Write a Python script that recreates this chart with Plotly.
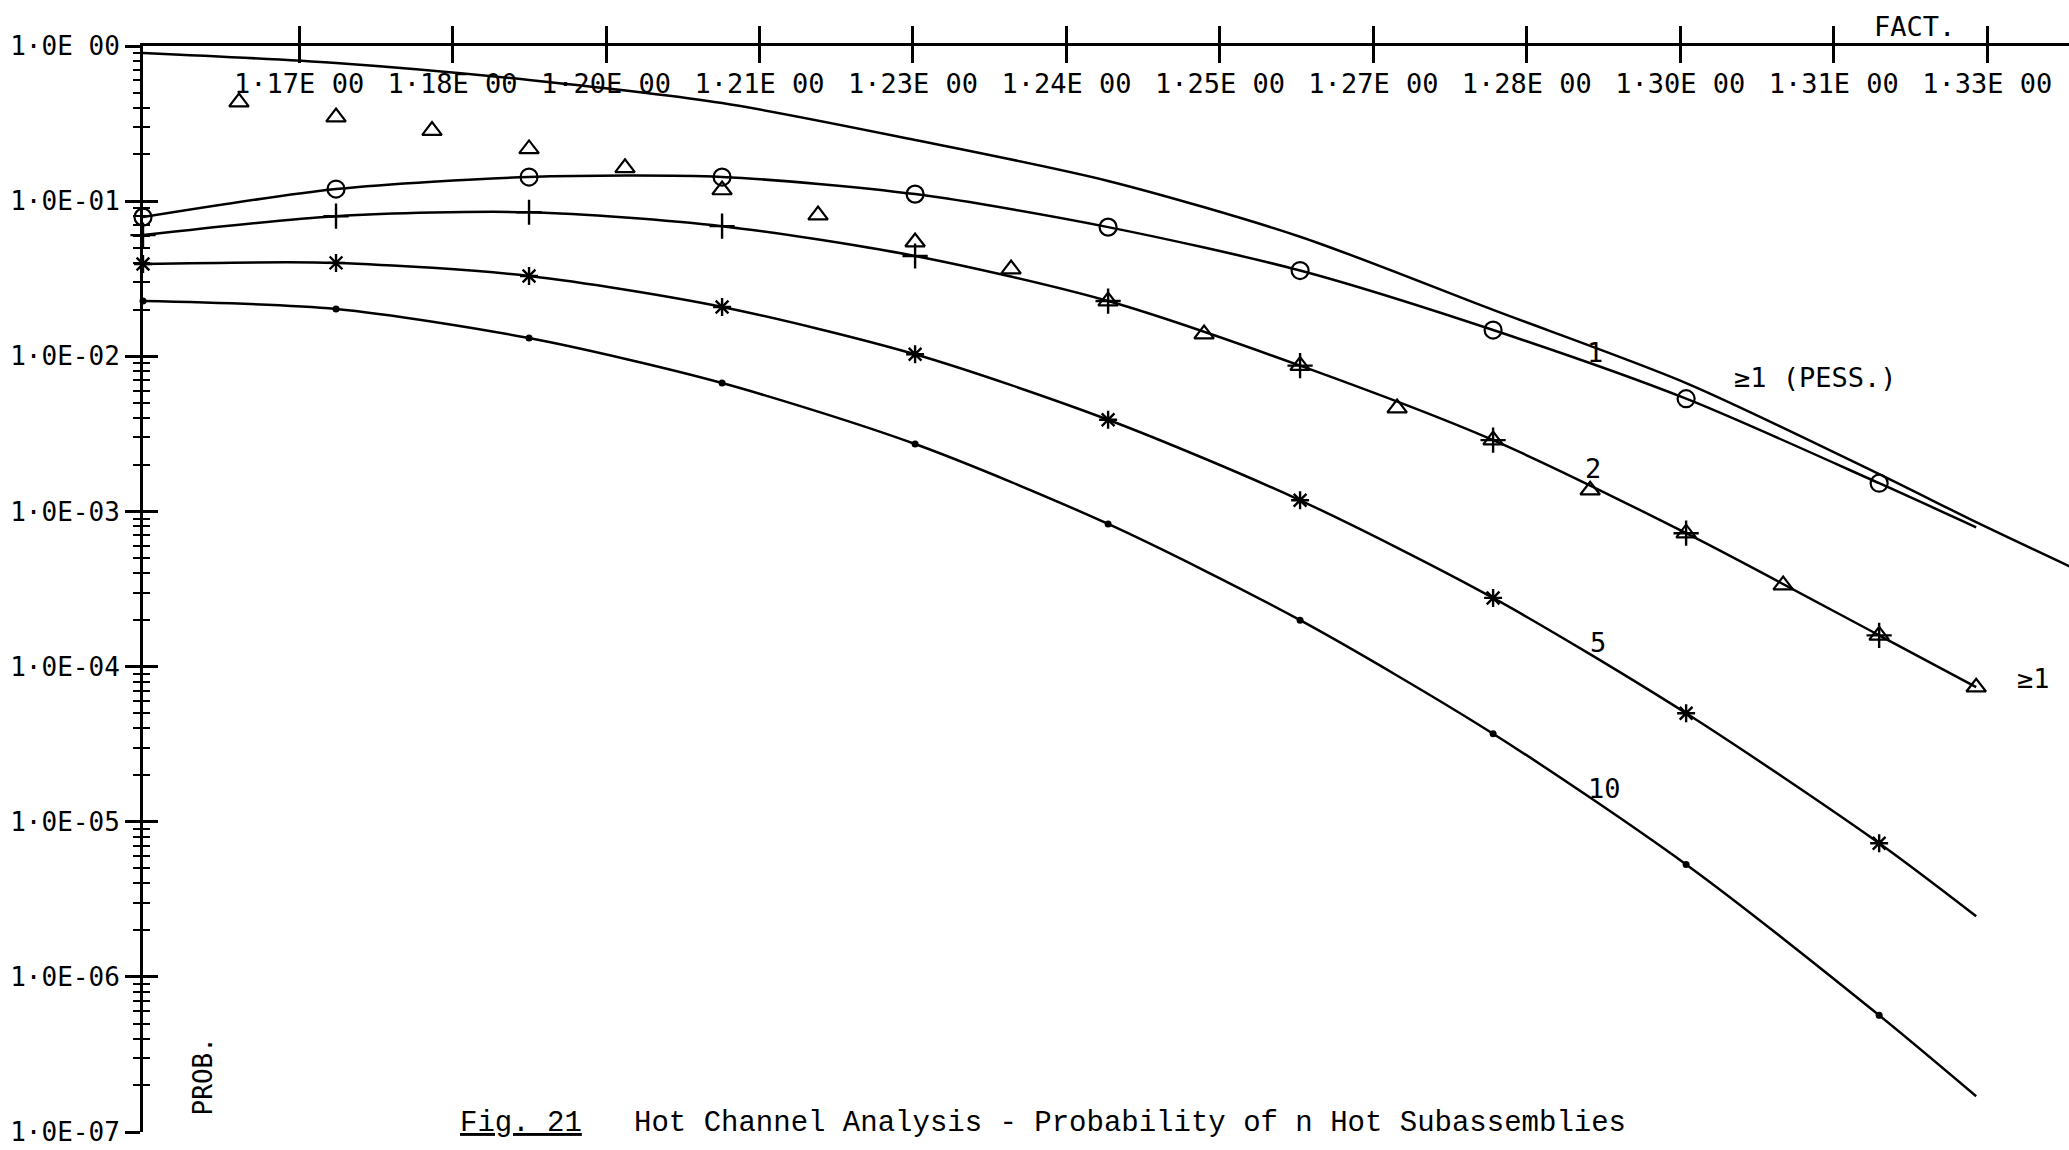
import math
import plotly.graph_objects as go

# ---------------- data ----------------
# hot-channel factor grid used by the computed curves (last point = curve end)
x_grid = [1.1572, 1.1755, 1.1938, 1.2121, 1.2304, 1.2487, 1.2669, 1.2852, 1.3035, 1.3218, 1.3310]
x_marked = x_grid[:10]

# >=1 (pessimistic) curve, runs off the right edge
pess_x = [1.1572, 1.1755, 1.1938, 1.2121, 1.2304, 1.2487, 1.2669, 1.2852, 1.3035, 1.3218, 1.3310, 1.3400]
pess_y = [0.902, 0.777, 0.604, 0.429, 0.248, 0.135, 0.059, 0.0199, 0.00672, 0.00174, 0.000853, 0.000438]

# n = 1 (circles)
n1_y = [0.0789, 0.1197, 0.143, 0.143, 0.111, 0.068, 0.0357, 0.01476, 0.00533, 0.00152, 0.00079]
# n = 2 (plus)
n2_y = [0.0604, 0.080, 0.0848, 0.069, 0.0443, 0.0227, 0.0087, 0.00288, 0.000724, 0.000159, 0.0000736]
# n = 5 (asterisk)
n5_y = [0.0393, 0.040, 0.0329, 0.0208, 0.0103, 0.0039, 0.00118, 0.000277, 0.0000500, 0.00000727, 0.00000246]
# n = 10 (dots)
n10_y = [0.0227, 0.0202, 0.0131, 0.00672, 0.00272, 0.00083, 0.000199, 0.0000369, 0.0000053, 0.000000565, 0.00000017]

# >=1 (triangles)
tri_x = [1.1663, 1.1755, 1.1846, 1.1938, 1.2029, 1.2121, 1.2212, 1.2304, 1.2395, 1.2487,
         1.2578, 1.2669, 1.2761, 1.2852, 1.2944, 1.3035, 1.3127, 1.3218, 1.3310]
tri_y = [0.435, 0.348, 0.285, 0.217, 0.164, 0.118, 0.0813, 0.0545, 0.0365, 0.0227,
         0.0139, 0.0087, 0.00463, 0.00288, 0.00137, 0.000724, 0.000335, 0.000159, 0.0000736]

# axis ticks
xtick_start = 1.172
xtick_step = 0.01455
xtick_text = ["1·17E 00", "1·18E 00", "1·20E 00", "1·21E 00", "1·23E 00", "1·24E 00",
              "1·25E 00", "1·27E 00", "1·28E 00", "1·30E 00", "1·31E 00", "1·33E 00"]
xtick_vals = [round(xtick_start + i * xtick_step, 5) for i in range(len(xtick_text))]

ytick_vals = [1, 1e-1, 1e-2, 1e-3, 1e-4, 1e-5, 1e-6, 1e-7]
ytick_text = ["1·0E 00", "1·0E-01", "1·0E-02", "1·0E-03", "1·0E-04", "1·0E-05", "1·0E-06", "1·0E-07"]
yminor_vals = [d * 10.0 ** e for e in range(-7, 0) for d in range(2, 10)]

# curve labels
label_text = ["1", "≥1 (PESS.)", "2", "5", "10", "≥1"]
label_x = [1.2949, 1.3158, 1.2947, 1.2951, 1.2958, 1.3364]
label_y = [0.01064, 0.00734, 0.0019, 1.42e-4, 1.64e-5, 8.4e-5]

caption = "<u>Fig. 21</u>\u00a0\u00a0\u00a0Hot Channel Analysis - Probability of n Hot Subassemblies"

X_RANGE = [1.1572, 1.3398]
Y_RANGE = [-7, 0]
PLOT_FONT = "DejaVu Sans Mono"

# ---------------- figure ----------------
fig = go.Figure()

LW = 2.5
for ys, xs in [(pess_y, pess_x), (n1_y, x_grid), (n2_y, x_grid), (n5_y, x_grid), (n10_y, x_grid)]:
    fig.add_trace(go.Scatter(x=xs, y=ys, mode="lines",
                             line=dict(color="black", width=LW, shape="spline", smoothing=0.8),
                             hoverinfo="skip"))

marker_specs = [
    (n1_y, dict(symbol="circle-open", size=17, color="black", line=dict(width=2.2, color="black"))),
    (n2_y, dict(symbol="cross-thin-open", size=18, color="black", line=dict(width=2.4, color="black"))),
    (n5_y, dict(symbol="asterisk-open", size=15, color="black", line=dict(width=2.4, color="black"))),
    (n10_y, dict(symbol="circle", size=7, color="black")),
]
for ys, mk in marker_specs:
    fig.add_trace(go.Scatter(x=x_marked, y=ys[:10], mode="markers", marker=mk,
                             cliponaxis=False, hoverinfo="skip"))

# triangles on the overlay axes (gives the second set of crossing ticks)
fig.add_trace(go.Scatter(x=tri_x, y=tri_y, mode="markers", xaxis="x2", yaxis="y2",
                         marker=dict(symbol="triangle-up-open", size=17, color="black",
                                     line=dict(width=2.2, color="black")),
                         cliponaxis=False, hoverinfo="skip"))

annotations = []
for t, lx, ly in zip(label_text, label_x, label_y):
    annotations.append(dict(x=lx, y=math.log10(ly), xref="x", yref="y", text=t, showarrow=False,
                            font=dict(family=PLOT_FONT, size=27, color="black"),
                            xanchor="center", yanchor="middle"))
annotations.append(dict(x=0.920, y=1.0175, xref="paper", yref="paper", text="FACT.", showarrow=False,
                        font=dict(family=PLOT_FONT, size=27, color="black"),
                        xanchor="center", yanchor="middle"))
annotations.append(dict(x=1.1629, y=-6.641, xref="x", yref="y", text="PROB.", showarrow=False,
                        textangle=-90, font=dict(family=PLOT_FONT, size=26, color="black"),
                        xanchor="center", yanchor="middle"))
annotations.append(dict(x=1.1871, y=-6.944, xref="x", yref="y", text=caption, showarrow=False,
                        font=dict(family="Liberation Mono", size=29, color="black"),
                        xanchor="left", yanchor="middle"))

common_x = dict(range=X_RANGE, side="top", showgrid=False, zeroline=False,
                tickmode="array", tickvals=xtick_vals, ticktext=xtick_text,
                tickcolor="black", tickwidth=2.5, ticklen=17, automargin=False)
common_y = dict(type="log", range=Y_RANGE, showgrid=False, zeroline=False,
                tickmode="array", tickvals=ytick_vals, ticktext=ytick_text,
                tickcolor="black", tickwidth=2.5, ticklen=15, automargin=False, side="left")

fig.update_layout(
    template="none",
    width=2069, height=1150,
    margin=dict(l=143, r=0, t=46, b=18, pad=0),
    paper_bgcolor="white", plot_bgcolor="white",
    showlegend=False,
    font=dict(family=PLOT_FONT, size=27, color="black"),
    xaxis=dict(**common_x, anchor="y", ticks="outside", showticklabels=False,
               showline=True, linecolor="black", linewidth=3),
    xaxis2=dict(**common_x, overlaying="x", anchor="y2", ticks="inside", showticklabels=True,
                ticklabelposition="inside", ticklabelstandoff=14, showline=False,
                tickfont=dict(family=PLOT_FONT, size=27, color="black")),
    yaxis=dict(**common_y, anchor="x", ticks="outside", showticklabels=True,
               showline=True, linecolor="black", linewidth=3,
               tickfont=dict(family=PLOT_FONT, size=26, color="black"),
               minor=dict(tickmode="array", tickvals=yminor_vals, ticks="outside",
                          ticklen=7, tickwidth=2, tickcolor="black", showgrid=False)),
    yaxis2=dict(**common_y, overlaying="y", anchor="x2", ticks="inside", showticklabels=False,
                showline=False,
                minor=dict(tickmode="array", tickvals=yminor_vals, ticks="inside",
                           ticklen=7, tickwidth=2, tickcolor="black", showgrid=False)),
    annotations=annotations,
)

fig.write_html("out.html", config={"displayModeBar": False},
               post_script="document.body.style.margin='0';")
